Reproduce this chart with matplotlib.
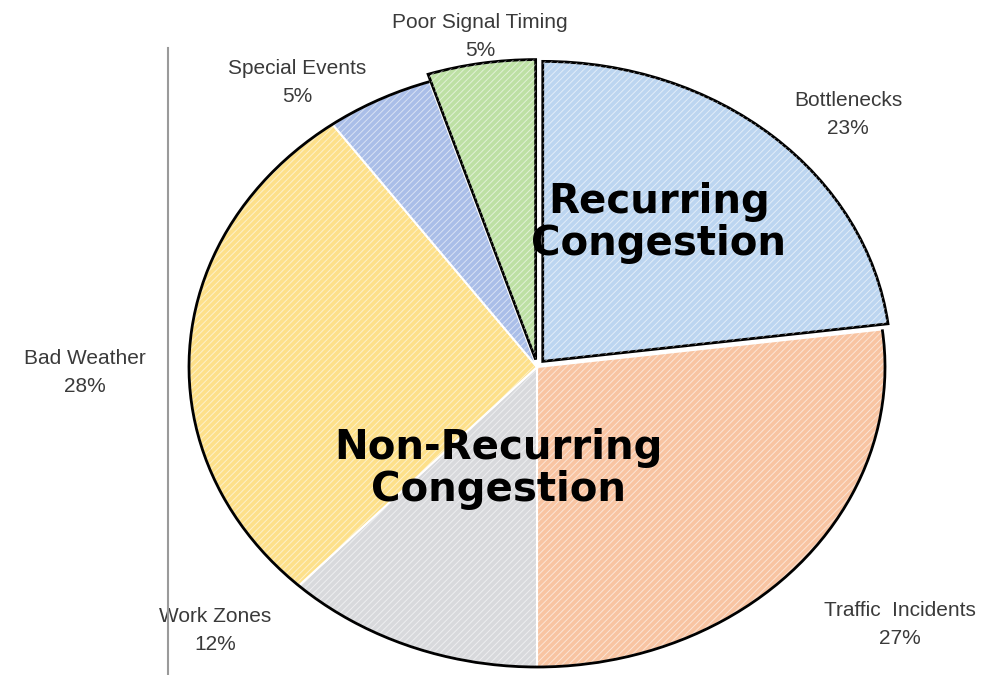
import numpy as np
import matplotlib
matplotlib.use('Agg')
from matplotlib import pyplot as plt
from matplotlib.patches import Arc

categories = ['Bottlenecks', 'Traffic  Incidents', 'Work Zones', 'Bad Weather',
              'Special Events', 'Poor Signal Timing']
shares = [23, 27, 12, 28, 5, 5]
recurring = [True, False, False, False, False, True]
colors = ['#bcd5f0', '#f8c4a2', '#d8d9dc', '#fde08a', '#aabee8', '#bde0a4']

# label anchors in pie units (radius 1)
label_xy = [(0.894, 0.84), (1.043, -0.86), (-0.925, -0.877),
            (-1.30, -0.02), (-0.69, 0.95), (-0.164, 1.10)]

plt.rcParams['font.family'] = ['Liberation Sans', 'DejaVu Sans']
plt.rcParams['hatch.linewidth'] = 0.7

fig = plt.figure(figsize=(9.99, 6.75), dpi=100)
ax = fig.add_axes([0, 0, 1, 1])

explode = [0.025 if r else 0 for r in recurring]
wedges, _ = ax.pie(shares, explode=explode, colors=colors, startangle=90,
                   counterclock=False,
                   wedgeprops=dict(edgecolor='white', linewidth=1.5))
for w, r in zip(wedges, recurring):
    if r:
        w.set_edgecolor('black')
        w.set_linewidth(2)
        w.set_zorder(3)

# fine diagonal hatching on top
hatched, _ = ax.pie(shares, explode=explode, startangle=90, counterclock=False,
                    wedgeprops=dict(facecolor='none', edgecolor=(1, 1, 1, 0.55),
                                    linewidth=0, hatch='/////'))
for h in hatched:
    h.set_zorder(4)

# black outer rim of the non-recurring part
frac = np.cumsum([0] + shares) / sum(shares) * 360
theta_start = 90 - frac[5]           # end of Special Events
theta_end = 90 - frac[1] + 360       # start of Traffic Incidents
ax.add_patch(Arc((0, 0), 2, 2, theta1=theta_start, theta2=theta_end,
                 color='black', linewidth=2, zorder=5))

for name, val, (x, y) in zip(categories, shares, label_xy):
    ax.text(x, y, f'{name}\n{val}%', ha='center', va='center', fontsize=15,
            color='#3a3a3a', linespacing=1.6)

ax.text(0.35, 0.48, 'Recurring\nCongestion', ha='center', va='center',
        fontsize=29, fontweight='bold', family='DejaVu Sans', linespacing=1.05,
        zorder=6)
ax.text(-0.11, -0.34, 'Non-Recurring\nCongestion', ha='center', va='center',
        fontsize=29, fontweight='bold', family='DejaVu Sans', linespacing=1.05,
        zorder=6)

# stretch the pie into the ellipse of the original
ax.set_aspect('auto')
ax.set_xlim(-537 / 348, (999 - 537) / 348)
ax.set_ylim(-(675 - 367) / 300, 367 / 300)
ax.axis('off')

# thin vertical rule on the left
fig.add_artist(plt.Line2D([168 / 999, 168 / 999], [0, 1 - 48 / 675],
                          color='#9a9a9a', linewidth=1.5))

fig.savefig('out.png', dpi=100)
